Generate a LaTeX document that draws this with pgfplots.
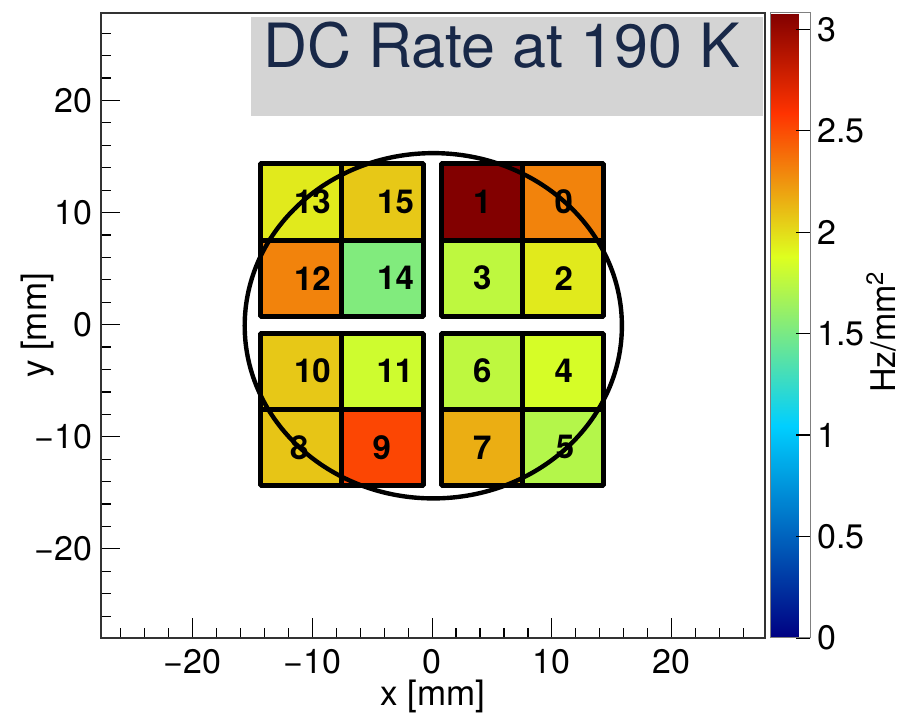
\documentclass[border=0pt]{standalone}
\usepackage{pgfplots}
\pgfplotsset{compat=1.18}
\usepgfplotslibrary{patchplots}
\usepackage{fontspec}
\setmainfont{TeX Gyre Heros}
\definecolor{titlenavy}{RGB}{24,40,72}
\definecolor{boxgray}{RGB}{212,212,212}
\begin{document}
\begin{tikzpicture}
\begin{axis}[
  scale only axis,
  width=332pt, height=312.5pt,
  xmin=-27.65, xmax=27.8, ymin=-27.95, ymax=27.8,
  xtick={-20,-10,0,10,20}, xticklabels={−20,−10,0,10,20},
  ytick={-20,-10,0,10,20}, yticklabels={−20,−10,0,10,20},
  minor xtick={-26,-24,...,26}, minor ytick={-26,-24,...,26},
  tick align=inside, tick pos=left,
  major tick length=9.75pt, minor tick length=5pt,
  every tick/.style={black, line width=0.6pt},
  axis line style={black!80, line width=1pt},
  tick label style={font=\fontsize{17}{20}\selectfont},
  xticklabel style={yshift=-2pt},
  yticklabel style={xshift=-1pt},
  label style={font=\fontsize{17.5}{20}\selectfont},
  xlabel={x [mm]}, ylabel={y [mm]},
  xlabel style={at={(axis description cs:0.5,-0.108)}, anchor=base},
  ylabel style={at={(axis description cs:-0.096,0.5)}, anchor=center},
  colormap={rootrb}{rgb255(0cm)=(0,0,130); rgb255(34cm)=(0,207,255); rgb255(61cm)=(222,255,31); rgb255(84cm)=(255,51,0); rgb255(100cm)=(130,0,0)},
  point meta min=0, point meta max=3.08,
  colorbar right,
  colorbar style={
    at={(parent axis.north east)}, anchor=north west, xshift=-6pt,
    width=20pt,
    ytick={0,0.5,1,1.5,2,2.5,3},
    yticklabels={0,0.5,1,1.5,2,2.5,3},
    ytick pos=right, yticklabel pos=right,
    tick align=inside,
    major tick length=7pt,
    every tick/.style={black, line width=0.6pt},
    axis line style={gray, line width=0.5pt},
    yticklabel style={font=\fontsize{17}{20}\selectfont, anchor=west, xshift=0pt},
    ylabel={Hz/mm\textsuperscript{2}},
    ylabel style={font=\fontsize{17}{20}\selectfont, at={(axis description cs:2.78,0.49)}, anchor=center, rotate=0},
  },
]
\coordinate (sw) at (rel axis cs:0,0);
\coordinate (ne) at (rel axis cs:1,1);
\addplot[patch, patch type=rectangle, shader=faceted, faceted color=black, line width=2.5pt, point meta=explicit]
table[meta=c] {
x y c
-14.35 7.55 1.95
-7.55 7.55 1.95
-7.55 14.35 1.95
-14.35 14.35 1.95
-7.55 7.55 2.07
-0.75 7.55 2.07
-0.75 14.35 2.07
-7.55 14.35 2.07
0.75 7.55 3.08
7.55 7.55 3.08
7.55 14.35 3.08
0.75 14.35 3.08
7.55 7.55 2.31
14.35 7.55 2.31
14.35 14.35 2.31
7.55 14.35 2.31
-14.35 0.75 2.31
-7.55 0.75 2.31
-7.55 7.55 2.31
-14.35 7.55 2.31
-7.55 0.75 1.53
-0.75 0.75 1.53
-0.75 7.55 1.53
-7.55 7.55 1.53
0.75 0.75 1.76
7.55 0.75 1.76
7.55 7.55 1.76
0.75 7.55 1.76
7.55 0.75 1.95
14.35 0.75 1.95
14.35 7.55 1.95
7.55 7.55 1.95
-14.35 -7.55 2.07
-7.55 -7.55 2.07
-7.55 -0.75 2.07
-14.35 -0.75 2.07
-7.55 -7.55 1.82
-0.75 -7.55 1.82
-0.75 -0.75 1.82
-7.55 -0.75 1.82
0.75 -7.55 1.76
7.55 -7.55 1.76
7.55 -0.75 1.76
0.75 -0.75 1.76
7.55 -7.55 1.85
14.35 -7.55 1.85
14.35 -0.75 1.85
7.55 -0.75 1.85
-14.35 -14.35 2.08
-7.55 -14.35 2.08
-7.55 -7.55 2.08
-14.35 -7.55 2.08
-7.55 -14.35 2.52
-0.75 -14.35 2.52
-0.75 -7.55 2.52
-7.55 -7.55 2.52
0.75 -14.35 2.16
7.55 -14.35 2.16
7.55 -7.55 2.16
0.75 -7.55 2.16
7.55 -14.35 1.72
14.35 -14.35 1.72
14.35 -7.55 1.72
7.55 -7.55 1.72
};
\begin{scope}[every node/.style={font=\bfseries\fontsize{16.5}{18}\selectfont, inner sep=0}]
\node at (axis cs:-10.0,10.95) {13};
\node at (axis cs:-3.05,10.95) {15};
\node at (axis cs:4.2,10.95) {1};
\node at (axis cs:11.0,10.95) {0};
\node at (axis cs:-10.0,4.15) {12};
\node at (axis cs:-3.05,4.15) {14};
\node at (axis cs:4.2,4.15) {3};
\node at (axis cs:11.0,4.15) {2};
\node at (axis cs:-10.0,-4.15) {10};
\node at (axis cs:-3.1,-4.15) {11};
\node at (axis cs:4.2,-4.15) {6};
\node at (axis cs:11.0,-4.15) {4};
\node at (axis cs:-11.1,-10.95) {8};
\node at (axis cs:-4.2,-10.95) {9};
\node at (axis cs:4.2,-10.95) {7};
\node at (axis cs:11.1,-10.95) {5};
\end{scope}
\draw[line width=2.2pt] (axis cs:0.1,-0.1) ellipse [x radius=15.75, y radius=15.4];
\fill[boxgray] (axis cs:-15.1,27.45) rectangle (axis cs:27.6,18.6);
\node[anchor=base west, inner sep=0, text=titlenavy, font=\fontsize{30.5}{36}\selectfont] at (axis cs:-14.1,22.95) {DC Rate at 190 K};
\end{axis}
\pgfresetboundingbox
\path[use as bounding box] ([shift={(-50.5pt,-38.5pt)}]sw) rectangle ([shift={(68.5pt,6.5pt)}]ne);
\end{tikzpicture}
\end{document}
